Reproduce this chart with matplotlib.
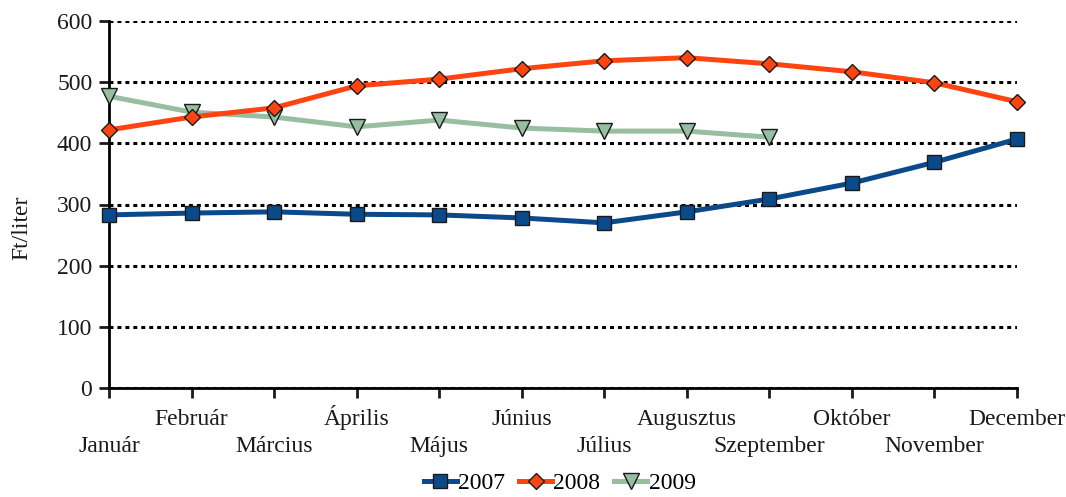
import numpy as np
import matplotlib
matplotlib.use("Agg")
import matplotlib.pyplot as plt

# havi átlagárak (Ft/liter)
honapok = ["Január", "Február", "Március", "Április", "Május", "Június",
           "Július", "Augusztus", "Szeptember", "Október", "November", "December"]
ar_2007 = [283, 286, 288, 284, 283, 278, 270, 288, 309, 335, 369, 407]
ar_2008 = [422, 443, 458, 494, 505, 522, 535, 540, 530, 517, 499, 468]
ar_2009 = [477, 451, 443, 427, 438, 425, 420, 420, 410]

plt.rcParams['font.family'] = ['Liberation Serif', 'DejaVu Serif']
fs = 17
tc = '#1a1a1a'

fig = plt.figure(figsize=(10.66, 4.97), dpi=100)
ax = fig.add_axes([109/1066, 1-388/497, (1017-109)/1066, (388-21)/497])

x = np.arange(len(honapok))

ax.plot(x, ar_2007, color='#0a4a8a', lw=3.6, marker='s', ms=10,
        mec=tc, mew=1.0, label='2007', clip_on=False, zorder=4)
ax.plot(x, ar_2008, color='#ff4412', lw=3.6, marker='D', ms=8,
        mec=tc, mew=1.0, label='2008', clip_on=False, zorder=4)
ax.plot(x[:len(ar_2009)], ar_2009, color='#97bea0', lw=3.6, marker='v', ms=11,
        mec=tc, mew=1.0, label='2009', clip_on=False, zorder=3)

ax.set_xlim(0, 11)
ax.set_ylim(0, 600)
ax.set_yticks(range(0, 601, 100))
ax.yaxis.grid(True, color='black', ls=(0, (1.3, 1.3)), lw=2.2)
ax.set_axisbelow(True)

# hónapnevek két sorban, váltakozva
ax.set_xticks(x)
ax.set_xticklabels([])
for i, h in enumerate(honapok):
    yy = -0.1744 if i % 2 == 0 else -0.1008
    ax.text(i, yy, h, transform=ax.get_xaxis_transform(), ha='center',
            va='baseline', fontsize=fs, color=tc)

for s in ['top', 'right']:
    ax.spines[s].set_visible(False)
for s in ['left', 'bottom']:
    ax.spines[s].set_linewidth(2)
ax.tick_params(axis='both', length=7.5, width=2, labelsize=fs, colors=tc)
ax.tick_params(axis='y', pad=4.5)

fig.text(22/1066, 1-228/497, "Ft/liter", rotation=90, ha='center', va='center',
         fontsize=fs, color=tc)

fig.legend(loc='lower center', bbox_to_anchor=(0.525, -0.022), ncol=3,
           frameon=False, fontsize=fs, handlelength=1.4, handletextpad=0.05,
           columnspacing=0.6, borderaxespad=0.2)

fig.savefig("out.png", dpi=100)
